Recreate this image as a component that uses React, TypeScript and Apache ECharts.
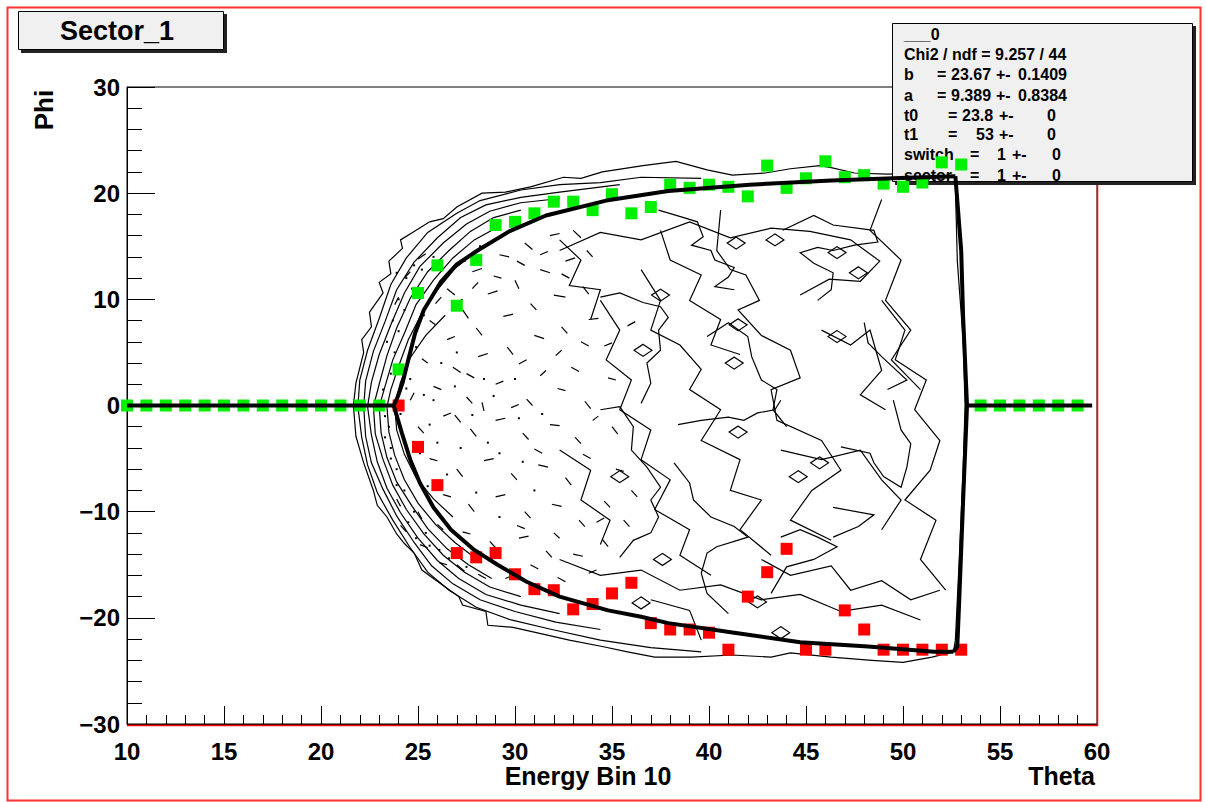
import React, { useEffect, useRef } from "react";
import * as echarts from "echarts";

// ---- axes ----
const thetaMin = 10;
const thetaMax = 60;
const thetaStep = 5;
const phiMin = -30;
const phiMax = 30;
const phiStep = 10;

// ---- marker points: green = upper edge, red = lower edge ----
const greenFlatTheta = [10, 11, 12, 13, 14, 15, 16, 17, 18, 19, 20, 21, 22, 23, 54, 55, 56, 57, 58, 59];
const greenFlatPhi = [0, 0, 0, 0, 0, 0, 0, 0, 0, 0, 0, 0, 0, 0, 0, 0, 0, 0, 0, 0];
const edgeTheta = [24, 25, 26, 27, 28, 29, 30, 31, 32, 33, 34, 35, 36, 37, 38, 39, 40, 41, 42, 43, 44, 45, 46, 47, 48, 49, 50, 51, 52, 53];
const greenPhi = [3.4, 10.6, 13.2, 9.4, 13.7, 17.0, 17.3, 18.1, 19.2, 19.2, 18.4, 19.9, 18.1, 18.7, 20.8, 20.5, 20.8, 20.6, 19.7, 22.6, 20.5, 21.4, 23.0, 21.5, 21.7, 20.9, 20.6, 21.0, 22.9, 22.7];
const redPhi = [0, -3.9, -7.5, -13.9, -14.3, -13.9, -15.9, -17.3, -17.4, -19.2, -18.7, -17.7, -16.7, -20.5, -21.1, -21.1, -21.4, -23.0, -18.0, -15.7, -13.5, -23.0, -23.0, -19.3, -21.1, -23.0, -23.0, -23.0, -23.0, -23.0];

// ---- fitted boundary ----
const fitLeft = [[10, 0], [23.75, 0]];
const fitUpper = [[23.75, 0], [23.95, 0.8], [24.2, 2.1], [24.5, 4.3], [24.85, 6.8], [25.3, 9.0], [26.2, 11.7], [27.0, 13.3], [28.07, 14.6], [29.7, 16.4], [31.6, 17.9], [34.7, 19.3], [37.9, 20.2], [42.1, 20.8], [46.3, 21.2], [49.5, 21.4], [52.7, 21.6]];
const fitLower = [[23.75, 0], [24.17, -2.6], [24.6, -5.1], [25.1, -7.3], [25.8, -9.6], [26.7, -11.7], [27.9, -13.6], [29.1, -15.0], [30.6, -16.6], [32.3, -18.0], [34.8, -19.3], [36.5, -19.9], [37.9, -20.5], [41.3, -21.4], [44.7, -22.3], [48.2, -22.7], [51.6, -23.2], [52.6, -23.2]];
const fitEdge = [[52.7, 21.6], [53.0, 14.6], [53.1, 8.3], [53.3, 0], [53.1, -8.9], [52.9, -18.3], [52.8, -22.7], [52.6, -23.2]];
const fitRight = [[53.3, 0], [59.75, 0]];

// ---- contour levels of the theta/phi occupancy ----
const contourOuter = [[21.67, 0], [21.8, 2.1], [22.2, 5.0], [22.1, 6.2], [22.6, 7.4], [22.5, 8.8], [23.2, 10.6], [23.0, 11.6], [23.6, 12.4], [23.5, 13.6], [24.2, 14.8], [24.1, 15.6], [24.8, 16.4], [25.6, 17.3], [26.3, 17.6], [27.0, 18.7], [28.3, 20.0], [29.5, 20.1], [30.8, 20.6], [32.5, 21.5], [33.4, 21.4], [34.5, 22.0], [36.6, 22.6], [38.3, 23.0], [39.1, 22.6], [39.9, 22.2], [41.2, 21.7], [42.9, 21.9], [44.2, 22.3], [45.7, 22.6], [46.3, 22.4], [47.5, 21.9], [49.2, 21.8], [50.9, 21.9], [52.2, 21.7], [52.7, 20.7], [52.8, 13.6], [53.1, 6.2], [53.2, 0], [53.1, -6.0], [52.9, -14.5], [52.7, -22.1], [52.6, -23.2], [51.5, -23.7], [50.0, -24.2], [48.4, -24.0], [46.3, -23.7], [44.2, -23.3], [43.2, -23.7], [41.2, -23.5], [39.1, -23.7], [37.2, -23.7], [35.8, -23.2], [34.5, -22.7], [32.8, -22.1], [31.1, -21.4], [29.9, -20.9], [28.6, -20.7], [28.5, -19.4], [27.3, -18.8], [27.1, -18.0], [26.1, -16.7], [25.2, -15.5], [24.8, -13.9], [24.3, -13.0], [23.9, -12.1], [23.4, -10.5], [22.9, -9.4], [22.7, -8.0], [22.2, -5.4], [21.8, -2.9], [21.67, 0]];
const contour2 = [[39.6, 21.4], [36.5, 21.5], [34.4, 21.0], [32.3, 20.8], [30.3, 20.3], [28.2, 19.3], [27.0, 18.1], [25.5, 16.3], [24.4, 13.9], [23.6, 11.4], [23.0, 8.2], [22.4, 5.2], [22.0, 2.4], [21.9, -0.1], [22.1, -3.0], [22.4, -5.6], [22.9, -8.2], [23.7, -10.8], [24.6, -13.4], [25.5, -15.7], [26.6, -17.4], [28.0, -19.0], [29.8, -20.2], [31.9, -21.1], [34.4, -22.1], [37.0, -22.8], [39.6, -23.2]];
const contour3 = [[35.4, 20.8], [32.3, 20.1], [30.3, 19.6], [28.5, 18.9], [27.2, 17.7], [26.0, 15.8], [24.8, 13.5], [23.9, 10.9], [23.3, 7.9], [22.7, 5.1], [22.3, 2.3], [22.2, -0.1], [22.3, -2.9], [22.6, -5.4], [23.2, -7.9], [23.9, -10.4], [24.8, -12.9], [25.7, -15.1], [26.8, -16.8], [28.2, -18.3], [30.0, -19.4], [32.1, -20.4], [34.4, -21.1]];
const contour4 = [[32.3, 19.5], [30.3, 19.1], [28.7, 18.3], [27.5, 17.1], [26.3, 15.3], [25.1, 13.1], [24.3, 10.6], [23.6, 7.6], [23.0, 4.8], [22.6, 2.2], [22.4, -0.1], [22.6, -2.8], [22.9, -5.3], [23.4, -7.8], [24.1, -10.1], [25.0, -12.5], [26.0, -14.6], [27.1, -16.3], [28.5, -17.8], [30.3, -18.8], [32.3, -19.6]];
const contour5 = [[30.3, 18.4], [28.9, 17.7], [27.7, 16.4], [26.6, 14.6], [25.5, 12.6], [24.6, 10.1], [23.9, 7.3], [23.4, 4.7], [23.0, 2.0], [22.7, -0.1], [22.8, -2.7], [23.2, -5.1], [23.7, -7.5], [24.4, -9.8], [25.3, -12.1], [26.3, -14.1], [27.4, -15.7], [28.7, -17.1], [30.3, -18.0]];
const contour6 = [[29.0, 16.7], [27.9, 15.6], [26.8, 13.9], [25.8, 11.8], [24.9, 9.5], [24.3, 6.8], [23.7, 4.3], [23.3, 1.8], [23.0, -0.1], [23.1, -2.6], [23.4, -4.9], [23.9, -7.2], [24.7, -9.5], [25.5, -11.6], [26.5, -13.5], [27.6, -15.0], [28.8, -16.3]];
const contour7 = [[28.0, 14.5], [26.9, 12.9], [26.0, 10.9], [25.2, 8.7], [24.5, 6.2], [24.0, 3.7], [23.6, 1.5], [23.4, -0.1], [23.5, -2.5], [23.8, -4.7], [24.3, -7.0], [25.0, -9.2], [25.9, -11.2], [26.9, -12.9], [27.9, -14.3]];
const contour8 = [[26.4, 8.5], [25.4, 6.6], [24.6, 4.5], [24.1, 2.2], [23.8, 0], [23.9, -2.3], [24.3, -4.6], [24.9, -6.8], [25.8, -8.8], [26.8, -10.5]];
const inner1 = [[32.3, 14.6], [34.4, 16.3], [36.5, 15.6], [39.0, 17.3], [41.1, 15.8], [43.2, 16.7], [45.2, 16.4], [47.3, 15.6], [48.8, 13.6], [47.8, 11.7], [46.2, 11.9], [44.7, 10.4]];
const inner2 = [[40.6, 18.4], [40.4, 14.6], [41.1, 12.8], [41.9, 12.3], [42.6, 9.9], [41.5, 9.0], [42.7, 6.6], [44.2, 5.2], [44.7, 2.6], [43.2, 1.5], [43.5, -1.4], [45.8, -3.3], [46.8, -6.1], [45.3, -8.0], [44.2, -10.8], [46.3, -12.7]];
const inner3 = [[36.5, 12.8], [37.5, 9.9], [37.0, 7.1], [38.5, 5.7], [39.6, 3.4], [39.0, 1.5], [40.6, -0.4], [39.6, -3.3], [41.6, -5.1], [41.1, -8.0], [42.7, -8.9], [41.6, -11.7], [43.2, -14.1]];
const inner4 = [[34.4, 9.9], [35.4, 7.1], [34.7, 4.3], [36.0, 2.4], [35.4, -0.4], [37.0, -2.3], [36.5, -5.1], [38.0, -7.0], [37.2, -9.8], [39.0, -11.7], [38.5, -14.1], [40.1, -16.0]];
const inner5 = [[48.9, 9.9], [50.1, 7.1], [49.6, 4.3], [51.2, 2.4], [50.6, -0.4], [51.9, -3.3], [51.4, -6.1], [50.1, -8.9], [51.7, -10.8], [50.9, -14.5], [52.2, -17.4]];
const inner6 = [[32.3, -14.5], [34.4, -16.0], [36.5, -15.5], [38.5, -17.4], [40.6, -16.9], [42.7, -18.3], [44.7, -17.8], [46.8, -19.4], [48.9, -18.8], [50.9, -20.2]];
const inner7 = [[45.8, 7.1], [47.3, 5.7], [48.3, 7.1], [48.9, 3.3], [47.8, 1.0], [49.1, -0.4]];
const inner8 = [[32.3, 15.6], [33.4, 13.7], [32.8, 11.3], [34.4, 10.9], [33.9, 8.1]];
const inner9 = [[37.5, 16.5], [38.0, 13.7], [39.6, 12.3], [39.0, 9.9], [40.6, 8.1], [40.1, 5.7], [41.6, 4.8]];
const inner10 = [[48.9, 19.4], [48.3, 16.5], [49.9, 13.7], [49.1, 9.9], [50.4, 7.1], [49.4, 4.3], [50.9, 1.5]];
const inner11 = [[43.7, -4.2], [45.8, -5.1], [47.8, -4.2], [48.9, -7.0], [49.9, -8.9], [48.9, -11.7]];
const inner12 = [[37.0, -18.3], [39.0, -19.3], [39.6, -22.1]];
const inner13 = [[32.3, -4.2], [33.9, -6.1], [33.4, -8.9], [34.9, -10.8], [34.4, -13.1]];
const inner14 = [[42.7, -14.5], [44.2, -16.0], [46.3, -15.1], [47.3, -17.4], [48.9, -16.5], [50.4, -18.3], [51.9, -17.4]];
const inner15 = [[37.4, 18.4], [38.7, 17.7], [39.4, 17.3], [39.7, 15.9], [39.1, 15.1], [40.1, 14.6], [40.3, 13.7], [41.3, 13.0], [41.0, 12.1], [40.3, 11.2], [41.3, 10.9]];
const inner16 = [[43.8, 16.5], [45.4, 17.9], [46.4, 17.0], [48.5, 16.5], [48.7, 15.4], [47.5, 15.1], [46.4, 14.6], [45.6, 14.9], [44.7, 14.4], [45.4, 13.4], [46.4, 12.5], [46.3, 10.9], [45.6, 9.9]];
const inner17 = [[48.0, 7.8], [48.2, 5.9], [48.9, 4.6], [50.2, 2.4], [49.2, 1.5]];
const inner18 = [[34.4, 10.2], [35.4, 10.6], [36.6, 9.7], [37.5, 9.3], [37.9, 8.3], [37.4, 7.1], [37.5, 5.2], [36.8, 4.0], [37.0, 2.1], [36.5, 0.2]];
const inner19 = [[39.9, 6.5], [41.0, 7.8], [42.0, 6.5], [42.2, 4.6], [42.7, 2.4], [43.5, 1.5], [43.3, -0.4], [44.0, -2.0]];
const inner20 = [[38.2, -5.4], [39.0, -7.3], [39.2, -8.9], [40.1, -10.5], [41.3, -11.4], [42.0, -12.4], [40.4, -13.3], [39.9, -13.9], [39.6, -15.8], [39.9, -17.7], [41.0, -19.6]];
const inner21 = [[43.7, -12.4], [44.7, -11.7], [45.6, -12.4], [46.6, -13.3], [45.4, -14.5], [44.0, -15.2], [43.2, -17.7]];
const inner22 = [[46.8, -3.9], [48.3, -4.5], [48.5, -5.4], [49.0, -6.7], [49.9, -7.7], [50.2, -5.8], [50.4, -3.6], [49.9, -2.3], [49.5, 0.5]];
const inner23 = [[34.4, -0.4], [35.4, -0.1], [36.1, -2.0], [36.0, -4.2], [36.8, -5.8], [37.5, -7.7], [37.0, -8.9], [37.4, -10.5], [37.0, -12.0], [36.1, -12.7], [35.4, -14.3]];
const inner24 = [[38.4, -1.8], [39.6, -1.4], [41.0, -1.1], [41.8, -1.4], [42.5, -0.7], [43.4, -0.4], [43.7, 0.5]];
const inner25 = [[46.4, -9.6], [48.5, -10.3], [47.7, -11.4], [46.4, -12.4]];

const contours = [contourOuter, contour2, contour3, contour4, contour5, contour6, contour7, contour8, inner1, inner2, inner3, inner4, inner5, inner6, inner7, inner8, inner9, inner10, inner11, inner12, inner13, inner14, inner15, inner16, inner17, inner18, inner19, inner20, inner21, inner22, inner23, inner24, inner25];

// small closed islands of the contour map (centres)
const islands = [[41.4, 15.3], [46.6, 14.4], [47.7, 12.5], [37.5, 10.4], [41.5, 7.6], [46.6, 6.5], [41.3, 4.0], [36.6, 5.2], [41.5, -2.5], [45.7, -5.4], [44.6, -6.7], [37.6, -14.5], [36.5, -18.6], [42.5, -18.5], [43.7, -21.4], [35.4, -6.7], [43.4, 15.6]];

// short contour fragments in the dense core: [theta1, phi1, theta2, phi2]
const fragments = [
  [26.5, 11, 26.9, 10.4], [27.8, 12.6, 28.3, 12.9], [29.2, 14.2, 29.7, 14.0], [30.5, 15.3, 30.9, 14.7], [31.8, 16.0, 32.3, 16.2], [33.0, 16.5, 33.4, 15.8],
  [27.3, 9.0, 27.6, 8.2], [28.6, 10.5, 29.1, 10.8], [30.0, 11.8, 30.2, 11.0], [31.3, 12.8, 31.8, 12.5], [32.6, 13.6, 33.1, 13.9], [25.6, 8.0, 25.9, 7.6],
  [26.5, 6.2, 26.9, 6.5], [28.0, 7.3, 28.3, 6.6], [29.4, 8.4, 29.9, 8.6], [30.8, 9.6, 31.1, 9.0], [32.0, 10.4, 32.6, 10.2], [33.5, 11.2, 33.8, 10.5],
  [25.2, 4.4, 25.5, 4.0], [26.8, 3.6, 27.2, 3.1], [28.1, 4.6, 28.6, 4.9], [29.6, 5.5, 29.9, 4.8], [31.0, 6.6, 31.5, 6.3], [32.4, 7.4, 32.7, 6.8], [33.8, 8.1, 34.3, 8.2],
  [25.0, -2.0, 25.3, -2.6], [26.3, -1.0, 26.7, -0.7], [27.7, -2.2, 28.0, -2.9], [29.0, -1.4, 29.5, -1.2], [30.4, -2.6, 30.7, -3.2], [31.8, -1.8, 32.3, -1.9], [33.1, -3.0, 33.4, -3.6],
  [25.6, -5.0, 26.0, -5.2], [27.0, -6.0, 27.3, -6.7], [28.4, -5.2, 28.9, -5.0], [29.8, -6.4, 30.1, -7.0], [31.2, -5.6, 31.7, -5.8], [32.6, -6.8, 32.9, -7.5],
  [26.3, -8.4, 26.7, -8.6], [27.6, -9.3, 27.9, -10.0], [29.0, -8.6, 29.5, -8.4], [30.5, -10.0, 30.8, -10.6], [31.9, -9.3, 32.4, -9.5], [33.3, -10.8, 33.6, -11.4],
  [27.3, -11.9, 27.7, -12.1], [28.7, -12.8, 29.0, -13.4], [30.2, -12.5, 30.7, -12.3], [31.6, -13.7, 31.9, -14.3], [33.0, -14.0, 33.5, -14.2], [34.5, -12.6, 34.8, -13.3],
  [24.6, 0.5, 24.8, 1.2], [25.8, 1.8, 26.2, 1.5], [27.5, 0.8, 27.8, 0.2], [29.0, 2.0, 29.4, 2.3], [30.6, 0.6, 30.9, 0.0], [32.2, 1.6, 32.6, 1.4], [33.6, 0.4, 33.9, -0.3],
  [34.8, 2.6, 35.2, 2.4], [35.0, -2.0, 35.3, -2.7], [34.6, 5.6, 35.0, 5.9], [35.2, -6.0, 35.6, -6.2], [34.6, -9.0, 34.9, -9.6],
  [24.3, 12.0, 24.6, 12.6], [25.0, 13.8, 25.4, 14.3], [23.8, 9.5, 24.0, 10.2], [24.9, 10.3, 25.1, 11.0], [25.9, 9.6, 26.2, 10.2], [26.9, 9.6, 27.3, 10.0],
  [27.8, 11.0, 28.1, 11.6], [28.9, 12.2, 29.3, 12.0], [30.1, 13.6, 30.5, 13.2], [31.3, 14.2, 31.7, 14.5], [32.4, 12.4, 32.8, 12.0], [33.7, 14.6, 34.0, 14.0],
  [24.1, -11.3, 24.4, -11.9], [25.1, -13.1, 25.5, -13.4], [23.9, -8.8, 24.1, -9.5], [25.0, -10.0, 25.2, -10.7], [26.0, -11.2, 26.3, -11.7], [26.1, -14.8, 26.5, -15.0],
  [27.0, -15.0, 27.4, -15.6], [28.1, -15.9, 28.5, -16.3], [29.5, -16.3, 29.9, -16.0], [30.8, -15.0, 31.2, -15.4], [32.2, -16.2, 32.6, -16.6], [33.8, -15.8, 34.2, -15.5],
  [26.9, -0.9, 27.2, -1.6], [28.3, 0.3, 28.4, -0.5], [29.8, -0.2, 30.2, 0.1], [31.3, 2.8, 31.6, 3.3], [32.9, 3.6, 33.3, 3.2], [34.0, -1.4, 34.3, -1.0],
  [31.0, -4.1, 31.4, -4.5], [33.5, -4.6, 33.9, -5.0], [30.1, -11.3, 30.5, -11.6], [32.0, -12.0, 32.3, -12.5], [34.2, -11.0, 34.6, -10.6], [27.5, 3.0, 27.9, 2.6],
  [30.2, 3.9, 30.6, 4.3], [32.1, 4.7, 32.4, 5.2], [33.4, 6.0, 33.8, 5.6], [35.8, 7.5, 36.2, 7.9], [36.0, -8.0, 36.3, -8.6], [35.6, -10.8, 35.9, -11.4]
];

// isolated single-bin dots near the rim
const dots = [[23.6, 3], [23.8, 5], [24.0, 7], [24.3, 9], [24.7, 11], [25.2, 12.8], [25.8, 14], [23.5, -2], [23.6, -4], [23.9, -6], [24.3, -8], [24.8, -10], [25.4, -12], [26.1, -13.6], [24.6, 2.5], [24.9, 5.5], [25.3, 8.5], [25.1, -4.5], [25.5, -7.6], [26.0, -10], [26.2, 4], [26.0, -3.5], [27.2, -4], [27.0, 5], [28.4, 2.5], [28.6, -3.5], [24.1, -0.8], [24.4, 1.6],
  [23.4, 6], [23.7, 8], [24.0, 10], [24.4, 12], [23.9, 12.5], [24.8, 13.2], [23.2, 1.5], [23.3, -1], [23.3, -3], [23.6, -5], [23.9, -7.5], [24.5, -11], [24.9, -12.5], [25.6, -13.2], [26.6, -14.4], [27.5, -15.2], [26.6, 12.5], [27.4, 13.6], [28.2, 15.0],
  [25.8, 0.5], [26.9, 1.8], [27.8, -0.9], [28.9, 0.9], [30.0, 2.5], [30.2, -1.2], [31.4, -0.8], [29.2, -4.5], [30.4, -5.3], [28.0, -8.2], [29.2, -10.5], [31.0, -8.0], [26.5, -6.5], [25.3, 1.0], [25.6, -1.8]];

// ---- text ----
const titleText = "Sector_1";
const xTitle = "Energy Bin 10";
const xTitleRight = "Theta";
const yTitle = "Phi";
const statsName = "___0";
const statsChi = "Chi2 / ndf = 9.257 / 44";
// [name, value, error]
const statsRows = [
  ["b", "23.67", "0.1409"],
  ["a", "9.389", "0.8384"],
  ["t0", "23.8", "0"],
  ["t1", "53", "0"],
  ["switch", "1", "0"],
  ["sector", "1", "0"]
];

const FONT = '"Liberation Sans", Arial, Helvetica, sans-serif';

function pairs(xs: number[], ys: number[]) {
  return xs.map((x, i) => [x, ys[i]]);
}

function txt(x: number, y: number, text: string, size: number, align = "left", z = 12) {
  return {
    type: "text",
    x,
    y,
    z,
    silent: true,
    style: { text, fill: "#000", fontSize: size, fontWeight: "bold", fontFamily: FONT, align, verticalAlign: "middle" }
  };
}

export default function App() {
  const ref = useRef<HTMLDivElement>(null);

  useEffect(() => {
    document.body.style.margin = "0";
    if (!ref.current) return;
    const chart = echarts.init(ref.current, undefined, { renderer: "svg" });

    // column positions inside the statistics box
    const statsX = 904;
    const rowY = [74, 95, 115, 134, 154.5, 175];
    const eqX = [937, 937, 948, 948, 970, 970];
    const valX = [951, 951, 962, 976, 997, 997];
    const pmX = [996, 996, 999, 999, 1012, 1012];
    const errX = [1018, 1018, 1047, 1047, 1052, 1052];

    const statsTexts: any[] = [txt(statsX, 34, statsName, 16), txt(statsX, 54, statsChi, 16)];
    statsRows.forEach((r, i) => {
      statsTexts.push(txt(statsX, rowY[i], r[0], 16));
      statsTexts.push(txt(eqX[i], rowY[i], "=", 16));
      statsTexts.push(txt(valX[i], rowY[i], r[1], 16));
      statsTexts.push(txt(pmX[i], rowY[i], "+-", 16));
      statsTexts.push(txt(errX[i], rowY[i], r[2], 16));
    });

    const fitLine = (data: number[][]) => ({
      type: "line",
      data,
      symbol: "none",
      silent: true,
      z: 22,
      lineStyle: { color: "#000", width: 4 },
      itemStyle: { color: "#000" }
    });

    chart.setOption({
      animation: false,
      backgroundColor: "#fff",
      grid: { left: 127, top: 87, width: 970, height: 637, show: true, borderColor: "#000", borderWidth: 1, backgroundColor: "transparent" },
      xAxis: {
        type: "value",
        min: thetaMin,
        max: thetaMax,
        interval: thetaStep,
        axisLine: { show: true, onZero: false, lineStyle: { color: "#000", width: 1 } },
        axisTick: { show: true, inside: true, length: 18, lineStyle: { color: "#000" } },
        minorTick: { show: true, splitNumber: 5, length: 9, lineStyle: { color: "#000" } },
        splitLine: { show: false },
        axisLabel: { margin: 15, color: "#000", fontSize: 24, fontWeight: "bold", fontFamily: FONT }
      },
      yAxis: {
        type: "value",
        min: phiMin,
        max: phiMax,
        interval: phiStep,
        axisLine: { show: true, onZero: false, lineStyle: { color: "#000", width: 1 } },
        axisTick: { show: true, inside: true, length: 28, lineStyle: { color: "#000" } },
        minorTick: { show: true, splitNumber: 5, length: 15, lineStyle: { color: "#000" } },
        splitLine: { show: false },
        axisLabel: {
          margin: 7,
          color: "#000",
          fontSize: 24,
          fontWeight: "bold",
          fontFamily: FONT,
          formatter: (v: number) => (v < 0 ? "\u2212" + Math.abs(v) : String(v))
        }
      },
      graphic: [
        // canvas frame
        { type: "rect", z: 0, silent: true, shape: { x: 7.5, y: 7.5, width: 1193, height: 793 }, style: { fill: "none", stroke: "#ff3030", lineWidth: 2 } },
        // red lower/right edges of the plot frame
        { type: "line", z: 5, silent: true, shape: { x1: 1097.5, y1: 87, x2: 1097.5, y2: 725.5 }, style: { stroke: "#ff0000", lineWidth: 1.5 } },
        { type: "line", z: 5, silent: true, shape: { x1: 127, y1: 725.5, x2: 1098, y2: 725.5 }, style: { stroke: "#ff0000", lineWidth: 1.5 } },
        // title box
        { type: "rect", z: 10, silent: true, shape: { x: 21, y: 14, width: 206, height: 39 }, style: { fill: "#222" } },
        { type: "rect", z: 11, silent: true, shape: { x: 18.5, y: 11.5, width: 205, height: 38 }, style: { fill: "#f0f0f0", stroke: "#000", lineWidth: 1 } },
        txt(117, 31, titleText, 27, "center"),
        // statistics box
        { type: "rect", z: 10, silent: true, shape: { x: 895, y: 26, width: 301, height: 159 }, style: { fill: "#222" } },
        { type: "rect", z: 11, silent: true, shape: { x: 892.5, y: 23.5, width: 300, height: 158 }, style: { fill: "#f0f0f0", stroke: "#000", lineWidth: 1 } },
        ...statsTexts,
        // axis titles
        txt(588, 776, xTitle, 25, "center"),
        txt(1095, 776, xTitleRight, 25, "right"),
        { ...txt(44, 110, yTitle, 26, "center"), rotation: Math.PI / 2 }
      ],
      series: [
        {
          type: "lines",
          coordinateSystem: "cartesian2d",
          polyline: true,
          silent: true,
          z: 1,
          data: contours.map((c) => ({ coords: c })),
          lineStyle: { color: "#000", width: 1.2, opacity: 1 }
        },
        {
          type: "lines",
          coordinateSystem: "cartesian2d",
          silent: true,
          z: 1,
          data: fragments.map((f) => ({ coords: [[f[0], f[1]], [f[2], f[3]]] })),
          lineStyle: { color: "#000", width: 1.2, opacity: 1 }
        },
        {
          type: "scatter",
          data: dots,
          symbol: "rect",
          symbolSize: 2,
          silent: true,
          z: 1,
          itemStyle: { color: "#000", opacity: 1 }
        },
        {
          type: "scatter",
          data: islands,
          symbol: "diamond",
          symbolSize: [18, 12],
          silent: true,
          z: 1,
          itemStyle: { color: "rgba(255,255,255,0)", borderColor: "#000", borderWidth: 1.2, opacity: 1 }
        },
        {
          type: "scatter",
          data: pairs(edgeTheta, redPhi),
          symbol: "rect",
          symbolSize: 12,
          silent: true,
          z: 20,
          itemStyle: { color: "#ff0000", opacity: 1 }
        },
        {
          type: "scatter",
          data: pairs(edgeTheta, greenPhi).concat(pairs(greenFlatTheta, greenFlatPhi)),
          symbol: "rect",
          symbolSize: 12,
          silent: true,
          z: 21,
          itemStyle: { color: "#00f000", opacity: 1 }
        },
        fitLine(fitLeft),
        fitLine(fitUpper),
        fitLine(fitLower),
        fitLine(fitEdge),
        fitLine(fitRight)
      ]
    });

    return () => chart.dispose();
  }, []);

  return <div ref={ref} style={{ width: 1206, height: 802 }} />;
}
